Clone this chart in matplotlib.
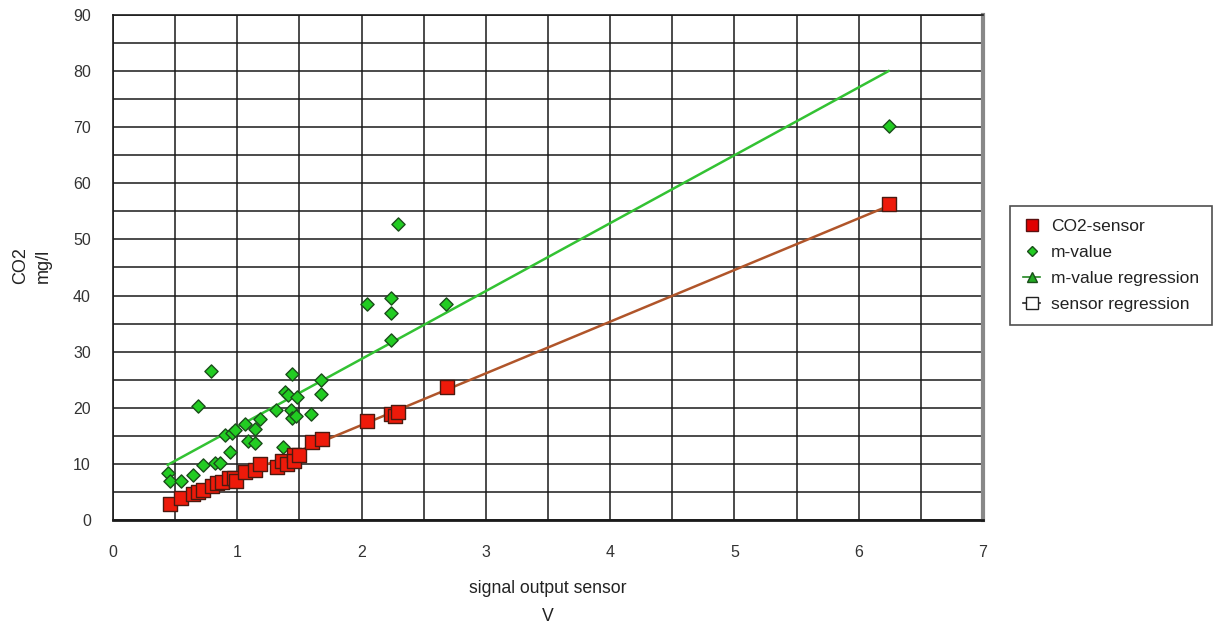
import matplotlib.pyplot as plt
import numpy as np
from matplotlib.ticker import MultipleLocator
from matplotlib.lines import Line2D

plt.rcParams['font.family'] = ['Liberation Sans', 'DejaVu Sans']

# m-value points
m_x = [0.44, 0.46, 0.55, 0.64, 0.68, 0.72, 0.79, 0.82, 0.86, 0.90, 0.94, 0.96, 0.98,
       1.06, 1.09, 1.14, 1.14, 1.18, 1.31, 1.37, 1.38, 1.41, 1.44, 1.43, 1.44, 1.47,
       1.48, 1.59, 1.67, 1.67, 2.04, 2.24, 2.24, 2.24, 2.29, 2.68, 6.24]
m_y = [8.4, 7.0, 7.0, 8.0, 20.3, 9.8, 26.6, 10.2, 10.2, 15.2, 12.1, 15.5, 16.0,
       17.1, 14.1, 16.2, 13.7, 18.0, 19.6, 13.0, 22.8, 22.3, 26.0, 19.6, 18.2, 18.5,
       21.9, 18.9, 25.0, 22.5, 38.5, 39.6, 36.9, 32.0, 52.8, 38.5, 70.2]

# CO2-sensor points
s_x = [0.46, 0.55, 0.64, 0.68, 0.72, 0.80, 0.84, 0.88, 0.93, 0.97, 0.99, 1.06, 1.14,
       1.18, 1.32, 1.36, 1.40, 1.46, 1.46, 1.50, 1.60, 1.68, 2.04, 2.24, 2.27, 2.29,
       2.69, 6.24]
s_y = [2.9, 3.9, 4.6, 5.0, 5.4, 6.0, 6.6, 6.8, 7.5, 7.5, 7.0, 8.6, 8.9,
       10.0, 9.4, 10.5, 10.0, 11.6, 10.5, 11.6, 13.9, 14.4, 17.6, 18.9, 18.6, 19.3,
       23.7, 56.3]

# regression coefficients (slope, intercept)
m_reg = (12.1, 4.5)
s_reg = (9.21, -1.5)

fig = plt.figure(figsize=(12.14, 6.24), dpi=100)
ax = fig.add_axes([0.0931, 0.1667, 0.7166, 0.8093])

xr = np.array([min(m_x), max(m_x)])
ax.plot(xr, m_reg[0] * xr + m_reg[1], color='#33c233', lw=1.8, zorder=3)
xr2 = np.array([min(s_x), max(s_x)])
ax.plot(xr2, s_reg[0] * xr2 + s_reg[1], color='#b0552a', lw=1.8, zorder=4)

ax.scatter(m_x, m_y, marker='D', s=45, facecolor='#22cc22', edgecolor='#1a4d1a',
           linewidth=1, zorder=5)
ax.scatter(s_x, s_y, marker='s', s=90, facecolor='#ee1a0a', edgecolor='#4a1a10',
           linewidth=1, zorder=6)

ax.set_xlim(0, 7)
ax.set_ylim(0, 90)
ax.xaxis.set_major_locator(MultipleLocator(1))
ax.xaxis.set_minor_locator(MultipleLocator(0.5))
ax.yaxis.set_major_locator(MultipleLocator(10))
ax.yaxis.set_minor_locator(MultipleLocator(5))
ax.grid(which='both', color='#1a1a1a', lw=1.1)
ax.set_axisbelow(True)
ax.tick_params(which='both', length=0)
ax.tick_params(axis='x', pad=18, labelsize=11.5, labelcolor='#333333')
ax.tick_params(axis='y', pad=16, labelsize=11.5, labelcolor='#333333')
for sp in ax.spines.values():
    sp.set_color('#1a1a1a')
    sp.set_linewidth(1.2)
ax.spines['right'].set_color('#888888')
ax.spines['right'].set_linewidth(3)
ax.spines['bottom'].set_linewidth(2)

fig.text(0.026, 0.574, 'CO2\nmg/l', rotation=90, ha='center', va='center',
         fontsize=13, color='#222222', linespacing=1.45)
fig.text(0.4514, 0.035, 'signal output sensor\nV', ha='center', va='center',
         fontsize=12.7, color='#222222', linespacing=1.85)

handles = [
    Line2D([], [], ls='none', marker='s', ms=8, mfc='#e00000', mec='#5a1010'),
    Line2D([], [], ls='none', marker='D', ms=5, mfc='#22cc22', mec='#1a4d1a'),
    Line2D([], [], color='#228822', lw=1.2, marker='^', ms=7, mfc='#22aa22', mec='#1a4d1a'),
    Line2D([], [], color='#222222', lw=1.2, marker='s', ms=8, mfc='white', mec='#222222'),
]
labels = ['CO2-sensor', 'm-value', 'm-value regression', 'sensor regression']
leg = fig.legend(handles, labels, loc='center left', bbox_to_anchor=(0.832, 0.575),
                 borderaxespad=0, fontsize=12.5, frameon=True, fancybox=False,
                 edgecolor='#222222', handlelength=1.0, handletextpad=0.6,
                 borderpad=0.75, labelspacing=0.62, labelcolor='#222222')
leg.get_frame().set_linewidth(1.2)

fig.savefig('out.png', dpi=100)
